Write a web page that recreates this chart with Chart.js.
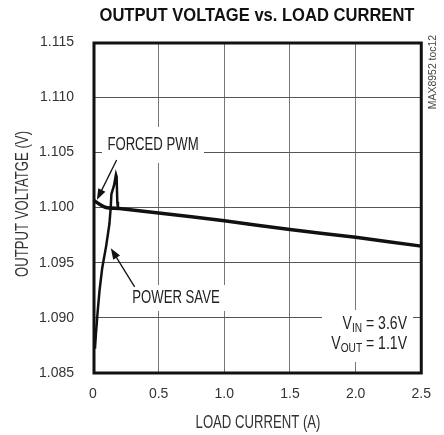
<!DOCTYPE html>
<html>
<head>
<meta charset="utf-8">
<script src="https://cdn.jsdelivr.net/npm/chart.js@4.4.1/dist/chart.umd.min.js"></script>
<style>
  html, body { margin: 0; padding: 0; background: #fff; }
  #wrap { width: 444px; height: 435px; }
</style>
</head>
<body>
<div id="wrap"><canvas id="myChart" width="444" height="435"></canvas></div>
<script>
// load current (A) and output voltage (V)
const pwmCurrent = [0, 0.05, 0.1, 0.2, 0.5, 1.0, 1.5, 2.0, 2.5];
const pwmVoltage = [1.1007, 1.1003, 1.1000, 1.0999, 1.0995, 1.0988, 1.0980, 1.0973, 1.0965];

const saveCurrent = [0.015, 0.022, 0.035, 0.05, 0.07, 0.1, 0.125, 0.135, 0.14, 0.16, 0.175, 0.18, 0.185, 0.19];
const saveVoltage = [1.0872, 1.0885, 1.0905, 1.0925, 1.0945, 1.0965, 1.0985, 1.1000, 1.1012, 1.1020, 1.1030, 1.1028, 1.1005, 1.0999];

const xTicks = [0, 0.5, 1.0, 1.5, 2.0, 2.5];
const xTickLabels = ['0', '0.5', '1.0', '1.5', '2.0', '2.5'];
const yTicks = [1.085, 1.090, 1.095, 1.100, 1.105, 1.110, 1.115];
const yTickLabels = ['1.085', '1.090', '1.095', '1.100', '1.105', '1.110', '1.115'];

const sans = '"Liberation Sans", Arial, sans-serif';

function toPoints(xs, ys) {
    return xs.map((x, i) => ({ x: x, y: ys[i] }));
}

// draws text squeezed horizontally, to get close to a condensed face
function narrowText(ctx, text, x, y, font, align, sx) {
    ctx.save();
    ctx.font = font;
    ctx.textAlign = align || 'center';
    ctx.textBaseline = 'middle';
    ctx.translate(x, y);
    ctx.scale(sx || 0.73, 1);
    ctx.fillText(text, 0, 0);
    ctx.restore();
}

function narrowWidth(ctx, text, font, sx) {
    ctx.save();
    ctx.font = font;
    const w = ctx.measureText(text).width * (sx || 0.73);
    ctx.restore();
    return w;
}

function arrow(ctx, x1, y1, x2, y2) {
    const a = Math.atan2(y2 - y1, x2 - x1);
    const len = 11, w = 4;
    ctx.beginPath();
    ctx.moveTo(x1, y1);
    ctx.lineTo(x2 - Math.cos(a) * len * 0.8, y2 - Math.sin(a) * len * 0.8);
    ctx.lineWidth = 1.3;
    ctx.strokeStyle = '#111';
    ctx.stroke();
    ctx.beginPath();
    ctx.moveTo(x2, y2);
    ctx.lineTo(x2 - Math.cos(a) * len - Math.sin(a) * w, y2 - Math.sin(a) * len + Math.cos(a) * w);
    ctx.lineTo(x2 - Math.cos(a) * len + Math.sin(a) * w, y2 - Math.sin(a) * len - Math.cos(a) * w);
    ctx.closePath();
    ctx.fillStyle = '#111';
    ctx.fill();
}

// labels, arrows, frame
const decor = {
    id: 'decor',
    afterDatasetsDraw(chart) {
        const ctx = chart.ctx;
        const xs = chart.scales.x, ys = chart.scales.y;
        const area = chart.chartArea;
        const big = '18px ' + sans;
        const sub = '13px ' + sans;
        ctx.save();

        ctx.fillStyle = '#fff';
        ctx.fillRect(102, 127, 102, 36);
        ctx.fillRect(122, 285, 108, 26);
        ctx.fillRect(322, 310, 91, 52);

        ctx.fillStyle = '#222';
        narrowText(ctx, 'FORCED PWM', 153, 145, big);
        narrowText(ctx, 'POWER SAVE', 176, 298, big);

        arrow(ctx, xs.getPixelForValue(0.18), ys.getPixelForValue(1.1043),
              xs.getPixelForValue(0.03), ys.getPixelForValue(1.1007));
        arrow(ctx, xs.getPixelForValue(0.317), ys.getPixelForValue(1.0928),
              xs.getPixelForValue(0.136), ys.getPixelForValue(1.0963));

        // conditions box
        ctx.fillStyle = '#222';
        const rows = [['V', 'IN', ' = 3.6V', 324], ['V', 'OUT', ' = 1.1V', 344]];
        rows.forEach(r => {
            const w1 = narrowWidth(ctx, r[0], big, 0.78);
            const w2 = narrowWidth(ctx, r[1], sub, 0.78);
            const w3 = narrowWidth(ctx, r[2], big, 0.78);
            const x = 407 - (w1 + w2 + w3);
            narrowText(ctx, r[0], x, r[3], big, 'left', 0.78);
            narrowText(ctx, r[1], x + w1, r[3] + 4, sub, 'left', 0.78);
            narrowText(ctx, r[2], x + w1 + w2, r[3], big, 'left', 0.78);
        });

        // heavy plot frame
        ctx.strokeStyle = '#111';
        ctx.lineWidth = 3;
        ctx.strokeRect(area.left + 1, area.top + 1, area.right - area.left - 1, area.bottom - area.top - 1);

        // titles
        ctx.fillStyle = '#111';
        narrowText(ctx, 'OUTPUT VOLTAGE vs. LOAD CURRENT', 257, 16, 'bold 18px ' + sans, 'center', 0.92);

        ctx.fillStyle = '#333';
        narrowText(ctx, 'LOAD CURRENT (A)', 258, 423, big);

        ctx.save();
        ctx.translate(23, 204);
        ctx.rotate(-Math.PI / 2);
        narrowText(ctx, 'OUTPUT VOLTATGE (V)', 0, 0, big);
        ctx.restore();

        ctx.save();
        ctx.translate(433, 72);
        ctx.rotate(-Math.PI / 2);
        ctx.fillStyle = '#444';
        narrowText(ctx, 'MAX8952 toc12', 0, 0, '11px ' + sans, 'center', 0.95);
        ctx.restore();

        ctx.restore();
    }
};

document.addEventListener('DOMContentLoaded', function() {
    const ctx = document.getElementById('myChart').getContext('2d');
    new Chart(ctx, {
        type: 'line',
        data: {
            datasets: [{
                label: 'Forced PWM',
                data: toPoints(pwmCurrent, pwmVoltage),
                borderColor: '#111',
                borderWidth: 3.5,
                pointRadius: 0,
                tension: 0.2
            }, {
                label: 'Power Save',
                data: toPoints(saveCurrent, saveVoltage),
                borderColor: '#111',
                borderWidth: 2.5,
                pointRadius: 0,
                tension: 0
            }]
        },
        options: {
            responsive: false,
            animation: false,
            layout: { padding: { left: 0, top: 42, right: 19, bottom: 0 } },
            plugins: {
                legend: { display: false },
                title: { display: false },
                tooltip: { enabled: false }
            },
            scales: {
                x: {
                    type: 'linear',
                    min: 0,
                    max: 2.5,
                    border: { display: false },
                    grid: { color: '#777', lineWidth: 1, drawTicks: false },
                    afterBuildTicks: s => { s.ticks = xTicks.map(v => ({ value: v })); },
                    ticks: {
                        autoSkip: false,
                        maxRotation: 0,
                        padding: 13,
                        color: '#333',
                        font: { family: sans, size: 14 },
                        callback: (v, i) => xTickLabels[i]
                    },
                    afterFit: s => { s.height = 62; }
                },
                y: {
                    type: 'linear',
                    min: 1.085,
                    max: 1.115,
                    border: { display: false },
                    grid: { color: '#555', lineWidth: 1, drawTicks: false },
                    afterBuildTicks: s => { s.ticks = yTicks.map(v => ({ value: v })); },
                    ticks: {
                        autoSkip: false,
                        padding: 19,
                        color: '#333',
                        font: { family: sans, size: 14 },
                        callback: (v, i) => yTickLabels[i]
                    },
                    afterFit: s => { s.width = 93; }
                }
            }
        },
        plugins: [decor]
    });
});
</script>
</body>
</html>
